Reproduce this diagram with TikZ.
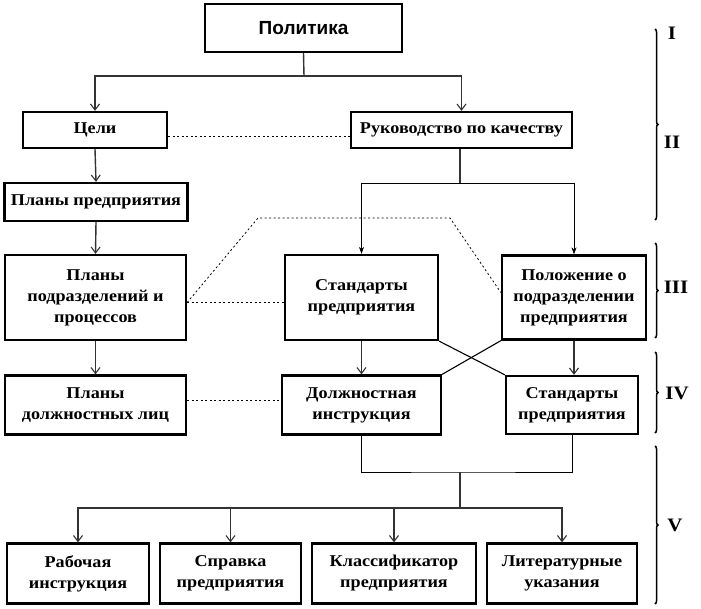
\documentclass[tikz,border=0pt]{standalone}
\usepackage{fontspec}
\setmainfont[FakeStretch=1.1]{Liberation Serif}
\newfontfamily\arialf{Liberation Sans}
\usetikzlibrary{arrows.meta,decorations.pathreplacing}
\begin{document}
\begin{tikzpicture}[x=1pt,y=-1pt,
  box/.style={draw=black, line width=2.3pt, fill=white, align=center, inner sep=0pt,
    font=\bfseries\fontsize{16.5}{21}\selectfont},
  conn/.style={draw=black!80, line width=1.4pt},
  arr/.style={conn, -{Straight Barb[length=6pt,width=9pt,line width=1.1pt]}},
  thinl/.style={draw=black, line width=0.7pt},
  thinarr/.style={thinl, -{Stealth[length=7pt,width=5pt]}},
  dotl/.style={draw=black, line width=0.8pt, dash pattern=on 2pt off 2.5pt},
  crossl/.style={draw=black, line width=1.1pt},
  brc/.style={draw=black, line width=1.5pt, decorate, decoration={brace,amplitude=3pt}},
  lvl/.style={font=\bfseries\fontsize{19}{22}\selectfont, inner sep=0pt}]
\useasboundingbox (0,0) rectangle (701,608);

% level I
\node[box, minimum width=197pt, minimum height=48pt, font=\arialf\bfseries\fontsize{19}{22}\selectfont] (pol) at (303.5,28) {Политика};
% level II
\node[box, minimum width=144pt, minimum height=36pt] (celi) at (95,130) {Цели};
\node[box, minimum width=221pt, minimum height=36pt] (ruk) at (461.5,130) {Руководство по качеству};
\node[box, minimum width=183pt, minimum height=38pt] (planp) at (96,202) {Планы предприятия};
% level III
\node[box, minimum width=181pt, minimum height=85pt] (planpodr) at (95.5,297.5) {Планы\\подразделений и\\процессов};
\node[box, minimum width=153pt, minimum height=85pt] (stand1) at (361.5,297.5) {Стандарты\\предприятия};
\node[box, minimum width=144pt, minimum height=84pt] (polozh) at (574,297.5) {Положение о\\подразделении\\предприятия};
% level IV
\node[box, minimum width=181pt, minimum height=59pt] (plandl) at (95.5,405) {Планы\\должностных лиц};
\node[box, minimum width=159pt, minimum height=59pt] (dolzh) at (361.5,405) {Должностная\\инструкция};
\node[box, minimum width=132pt, minimum height=58pt] (stand2) at (572,405) {Стандарты\\предприятия};
% level V
\node[box, minimum width=142pt, minimum height=60pt] (rab) at (78,573.5) {Рабочая\\инструкция};
\node[box, minimum width=141pt, minimum height=60pt] (spr) at (230.5,573.5) {Справка\\предприятия};
\node[box, minimum width=164pt, minimum height=60pt] (klass) at (394,573.5) {Классификатор\\предприятия};
\node[box, minimum width=150pt, minimum height=60pt] (lit) at (562,573.5) {Литературные\\указания};

% connectors I -> II
\coordinate (pj) at (304,76);
\draw[conn] (pol.south) -- (pj);
\draw[arr] (pj) -| (celi.north);
\draw[arr] (pj) -| (ruk.north);
\draw[dotl] ([yshift=-6pt]celi.east) -- ([yshift=-6pt]ruk.west);
\draw[arr] (celi.south) -- (planp.north);
\draw[arr] (planp.south) -- (planpodr.north);

% Руководство -> III
\coordinate (rj) at (460,183);
\draw[conn] (ruk.south -| rj) -- (rj);
\draw[thinarr] (rj) -| (stand1.north);
\draw[thinarr] (rj) -| (polozh.north);

% dotted relations in III
\coordinate (k1) at (258,218);
\coordinate (k2) at (450,218);
\draw[dotl] ([yshift=-5pt]planpodr.east) -- ([yshift=-5pt]stand1.west);
\draw[dotl] ([yshift=-5pt]planpodr.east) -- (k1) -- (k2) -- ([yshift=5pt]polozh.west);

% III -> IV
\draw[arr] (planpodr.south) -- (plandl.north);
\draw[arr] (stand1.south) -- (dolzh.north);
\draw[arr] (polozh.south) -- (polozh.south |- stand2.north);
\draw[crossl] (stand1.south east) -- (stand2.north west);
\draw[crossl] (polozh.south west) -- (dolzh.north east);
\draw[dotl] ([yshift=5pt]plandl.east) -- ([yshift=5pt]dolzh.west);

% IV -> V
\coordinate (bj) at (460,472);
\coordinate (bh) at (460,508);
\draw[thinl] (dolzh.south) |- (bj) -| (stand2.south);
\draw[conn] (bj) -- (bh);
\draw[arr] (bh) -| (rab.north);
\draw[arr] (bh) -| (spr.north);
\draw[arr] (bh) -| (klass.north);
\draw[arr] (bh) -| (lit.north);

% level braces
\draw[brc] (655,29) -- (655,220);
\draw[brc] (655,243) -- (655,338);
\draw[brc] (655,352) -- (655,433);
\draw[brc] (655,446) -- (655,604);
\node[lvl] (l1) at (672,33) {I};
\node[lvl] (l2) at (672,142) {II};
\node[lvl] (l3) at (676,287) {III};
\node[lvl] (l4) at (677,393) {IV};
\node[lvl] (l5) at (675,525) {V};
\end{tikzpicture}
\end{document}
